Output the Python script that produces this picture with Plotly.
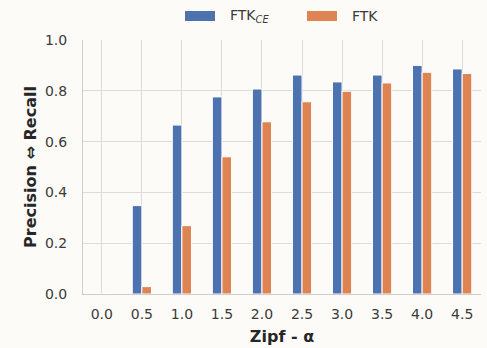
import plotly.graph_objects as go

# Zipf exponent categories and the two series
alphas = ["0.0", "0.5", "1.0", "1.5", "2.0", "2.5", "3.0", "3.5", "4.0", "4.5"]
ftk_ce = [0.0, 0.348, 0.665, 0.776, 0.807, 0.862, 0.835, 0.862, 0.900, 0.886]
ftk = [0.0, 0.029, 0.269, 0.540, 0.678, 0.757, 0.798, 0.831, 0.873, 0.868]
y_ticks = [0.0, 0.2, 0.4, 0.6, 0.8, 1.0]

BLUE = "#4c72b0"
ORANGE = "#dd8452"
BG = "#fdfbf8"
GRID = "#dcdcdc"
TEXT = "#3a3a3a"
FONT = "DejaVu Sans"

fig = go.Figure()
fig.add_trace(go.Bar(x=alphas, y=ftk_ce, name="FTK<sub><i>CE</i></sub>",
                     marker=dict(color=BLUE, line=dict(color="white", width=1))))
fig.add_trace(go.Bar(x=alphas, y=ftk, name="FTK",
                     marker=dict(color=ORANGE, line=dict(color="white", width=1))))

fig.update_layout(
    width=487, height=348,
    margin=dict(l=83, r=6, t=40, b=54),
    paper_bgcolor=BG, plot_bgcolor=BG,
    barmode="group", bargap=0.52, bargroupgap=0.0,
    showlegend=False,
    font=dict(family=FONT, color=TEXT, size=14),
)
fig.update_xaxes(
    type="category", range=[-0.47, 9.47],
    showgrid=True, gridcolor=GRID, gridwidth=1,
    showline=True, linecolor="#cccccc", linewidth=1,
    ticks="", ticklabelstandoff=7,
    tickfont=dict(family=FONT, size=14, color=TEXT),
    title=dict(text="<b>Zipf - α</b>", font=dict(family=FONT, size=16, color="#262626"), standoff=10),
)
fig.update_yaxes(
    range=[0, 1.0], tickvals=y_ticks, ticktext=[f"{v:.1f}" for v in y_ticks],
    showgrid=True, gridcolor=GRID, gridwidth=1, zeroline=False,
    showline=True, linecolor="#cccccc", linewidth=1,
    ticks="", ticklabelstandoff=12,
    tickfont=dict(family=FONT, size=14, color=TEXT),
    title=dict(text="<b>Precision ⇔ Recall</b>", font=dict(family=FONT, size=16, color="#262626"), standoff=4),
)

# Legend drawn above the axes: colour patch followed by its label
legend_items = [("FTK<sub><i>CE</i></sub>", BLUE, 185), ("FTK", ORANGE, 307)]
for label, color, x0 in legend_items:
    fig.add_shape(type="rect", xref="paper", yref="paper",
                  x0=(x0 - 83) / 398, x1=(x0 + 30 - 83) / 398,
                  y0=(294 - 21) / 254, y1=(294 - 11) / 254,
                  fillcolor=color, line=dict(width=0))
    fig.add_annotation(xref="paper", yref="paper",
                       x=(x0 + 43 - 83) / 398, y=(294 - 16) / 254,
                       text=label, showarrow=False, xanchor="left", yanchor="middle",
                       font=dict(family=FONT, size=14, color=TEXT))

fig.write_html("out.html")
